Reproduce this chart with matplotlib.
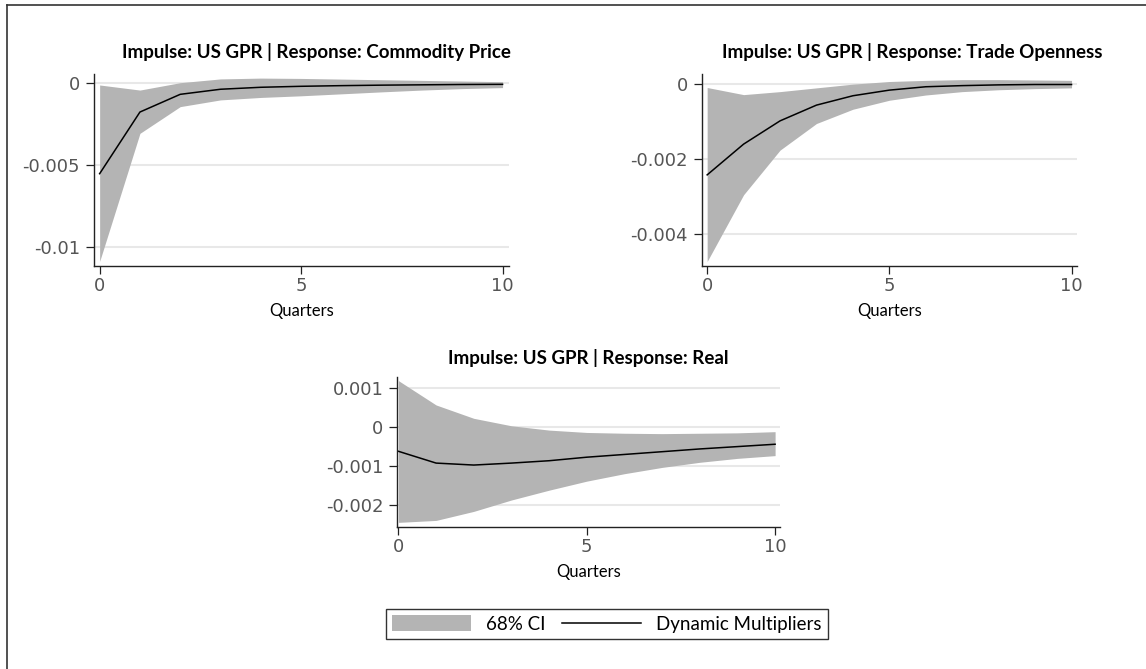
import numpy as np
import matplotlib.pyplot as plt
from matplotlib.patches import Patch
from matplotlib.lines import Line2D

plt.rcParams['font.family'] = ['Lato', 'DejaVu Sans']

quarters = np.arange(11)

# Commodity Price
cp_irf = [-0.00555, -0.00179, -0.00071, -0.00040, -0.00028, -0.00022, -0.00018, -0.00015, -0.00013, -0.00011, -0.00010]
cp_up = [-0.00014, -0.00045, 0.00000, 0.00023, 0.00028, 0.00026, 0.00022, 0.00018, 0.00014, 0.00010, 0.00006]
cp_lo = [-0.01090, -0.00309, -0.00146, -0.00105, -0.00090, -0.00080, -0.00068, -0.00056, -0.00045, -0.00036, -0.00030]

# Trade Openness
to_irf = [-0.00242, -0.00160, -0.00098, -0.00056, -0.00031, -0.00016, -0.00007, -0.00004, -0.00002, -0.00001, -0.00001]
to_up = [-0.00009, -0.00028, -0.00020, -0.00010, 0.00000, 0.00007, 0.00010, 0.00012, 0.00012, 0.00011, 0.00010]
to_lo = [-0.00473, -0.00295, -0.00176, -0.00105, -0.00067, -0.00043, -0.00029, -0.00020, -0.00015, -0.00012, -0.00010]

# Real
re_irf = [-0.00062, -0.00092, -0.00097, -0.00092, -0.00086, -0.00077, -0.00070, -0.00063, -0.00056, -0.00050, -0.00044]
re_up = [0.00118, 0.00056, 0.00022, 0.00003, -0.00008, -0.00014, -0.00016, -0.00017, -0.00016, -0.00015, -0.00012]
re_lo = [-0.00243, -0.00238, -0.00215, -0.00186, -0.00161, -0.00138, -0.00119, -0.00103, -0.00090, -0.00080, -0.00073]

W, H = 1146, 669
fig = plt.figure(figsize=(W / 100, H / 100), dpi=100)

band_col = '#b4b4b4'
grid_col = '#e8e8e8'


def px_axes(x0, y0, x1, y1):
    return fig.add_axes([x0 / W, 1 - y1 / H, (x1 - x0) / W, (y1 - y0) / H])


def draw_panel(ax, irf, up, lo, yticks, ylabels, ylim, xlim, title, title_x, title_y):
    ax.fill_between(quarters, lo, up, color=band_col, linewidth=0)
    ax.plot(quarters, irf, color='black', linewidth=1.1)
    ax.set_xlim(*xlim)
    ax.set_ylim(*ylim)
    ax.set_yticks(yticks)
    ax.set_yticklabels(ylabels)
    ax.set_xticks([0, 5, 10])
    for t in yticks:
        ax.axhline(t, color=grid_col, linewidth=1.5, zorder=0)
    for s in ['top', 'right']:
        ax.spines[s].set_visible(False)
    for s in ['left', 'bottom']:
        ax.spines[s].set_color('#222222')
        ax.spines[s].set_linewidth(1.0)
    ax.tick_params(length=6, width=0.9, color='#222222', labelsize=13,
                   labelcolor='#555555', pad=4)
    ax.tick_params(axis='x', pad=2)
    for lab in ax.get_xticklabels() + ax.get_yticklabels():
        lab.set_family('DejaVu Sans')
    ax.set_xlabel('Quarters', fontsize=12, labelpad=6)
    fig.text(title_x / W, 1 - title_y / H, title, fontsize=13.5, fontweight='bold',
             ha='center', va='center')


ax1 = px_axes(94, 74, 509, 266)
draw_panel(ax1, cp_irf, cp_up, cp_lo, [0, -0.005, -0.01], ['0', '-0.005', '-0.01'],
           (-0.01118, 0.00053), (-0.14, 10.16),
           'Impulse: US GPR | Response: Commodity Price', 316, 52)

ax2 = px_axes(701.7, 74, 1077, 266)
draw_panel(ax2, to_irf, to_up, to_lo, [0, -0.002, -0.004], ['0', '-0.002', '-0.004'],
           (-0.00485, 0.00027), (-0.15, 10.15),
           'Impulse: US GPR | Response: Trade Openness', 912, 52)

ax3 = px_axes(397.3, 376.7, 780, 526.7)
draw_panel(ax3, re_irf, re_up, re_lo, [0.001, 0, -0.001, -0.002],
           ['0.001', '0', '-0.001', '-0.002'],
           (-0.00254, 0.00128), (-0.03, 10.13),
           'Impulse: US GPR | Response: Real', 588, 358)

handles = [Patch(facecolor=band_col, edgecolor='none'),
           Line2D([], [], color='black', linewidth=1.1)]
leg = fig.legend(handles, ['68% CI', 'Dynamic Multipliers'], ncol=2, loc='center',
                 bbox_to_anchor=(607 / W, 1 - 624 / H), fontsize=13.5,
                 frameon=True, fancybox=False, handlelength=4.2, handleheight=0.9,
                 handletextpad=0.8, columnspacing=0.9, borderpad=0.35)
leg.get_frame().set_edgecolor('black')
leg.get_frame().set_linewidth(1.0)

# outer border (left and top only)
fig.add_artist(Line2D([7 / W, 7 / W], [0, 1 - 5 / H], color='#333333', linewidth=1.2))
fig.add_artist(Line2D([7 / W, 1], [1 - 5 / H, 1 - 5 / H], color='#333333', linewidth=1.2))

fig.savefig('out.png', dpi=100)
